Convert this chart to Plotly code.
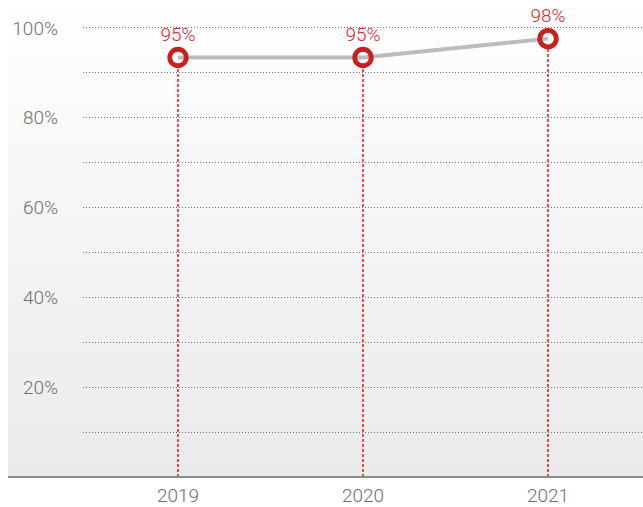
import plotly.graph_objects as go

years = ["2019", "2020", "2021"]
values = [93.4, 93.4, 97.6]
labels = ["95%", "95%", "98%"]
ytick_vals = [20, 40, 60, 80, 100]
ytick_text = ["20%", "40%", "60%", "80%", "100%"]
minor_vals = [10, 30, 50, 70, 90]

RED = "#c8201e"
LABEL_RED = "#cc2a2c"
GRAY_LINE = "#bcbcc0"
FONT = "Roboto"
FS = 19
FW = 300

W, H = 643, 507
L, R, T, B = 83, 0, 0, 27
bg_left = (8 - L) / (W - L - R)

svg = ("data:image/svg+xml;utf8,<svg xmlns='http://www.w3.org/2000/svg' width='100' height='100' preserveAspectRatio='none'>"
       "<defs><linearGradient id='g' x1='0' y1='0' x2='0' y2='1'>"
       "<stop offset='0' stop-color='%23ffffff'/><stop offset='1' stop-color='%23eaeaea'/>"
       "</linearGradient></defs><rect width='100' height='100' fill='url(%23g)'/></svg>")

drop_x, drop_y = [], []
for yr, v in zip(years, values):
    drop_x += [yr, yr, None]
    drop_y += [0, v, None]

fig = go.Figure()
fig.add_trace(go.Scatter(x=drop_x, y=drop_y, mode="lines",
                         line=dict(color="#e0262a", width=1.6, dash="3px,2px"),
                         hoverinfo="skip", showlegend=False))
fig.add_trace(go.Scatter(x=years, y=values, mode="markers",
                         marker=dict(symbol="circle", size=17, color="#ffffff", line=dict(width=0)),
                         hoverinfo="skip", showlegend=False))
fig.add_trace(go.Scatter(x=years, y=values, mode="lines",
                         line=dict(color=GRAY_LINE, width=4),
                         showlegend=False))
fig.add_trace(go.Scatter(x=years, y=values, mode="markers",
                         marker=dict(symbol="circle-open", size=16.5, color=RED, line=dict(width=4.8, color=RED)),
                         showlegend=False))
# value labels
fig.add_trace(go.Scatter(x=years, y=values, mode="markers+text",
                         text=labels, textposition="top center",
                         textfont=dict(family=FONT, size=FS, color=LABEL_RED, weight=FW),
                         marker=dict(size=17, opacity=0),
                         hoverinfo="skip", showlegend=False))

fig.update_layout(
    width=W, height=H,
    margin=dict(l=L, r=R, t=T, b=B),
    paper_bgcolor="#ffffff",
    plot_bgcolor="rgba(0,0,0,0)",
    font=dict(family=FONT, size=FS, color="#707070", weight=FW),
    images=[dict(source=svg, xref="paper", yref="paper", x=bg_left, y=1,
                 sizex=1 - bg_left, sizey=1, sizing="stretch", layer="below",
                 xanchor="left", yanchor="top")],
    shapes=[dict(type="line", xref="paper", yref="paper", x0=bg_left, x1=1, y0=0, y1=0,
                 line=dict(color="#8c8c8c", width=2), layer="above")],
    xaxis=dict(type="category", range=[-0.5135, 2.5135], showgrid=False, zeroline=False,
               showline=False, ticks="", tickfont=dict(family=FONT, size=FS, color="#6e6e6e", weight=FW),
               ticklabelstandoff=5, fixedrange=True),
    yaxis=dict(range=[0, 106.2], tickvals=ytick_vals, ticktext=ytick_text,
               showgrid=True, gridcolor="#6e6e6e", gridwidth=1, griddash="1px,2px",
               minor=dict(tickvals=minor_vals, showgrid=True, gridcolor="#6e6e6e",
                          gridwidth=1, griddash="1px,2px"),
               zeroline=False, showline=False, ticks="", ticklabelstandoff=24,
               tickfont=dict(family=FONT, size=FS, color="#707070", weight=FW)),
)

fig.write_html("out.html")
